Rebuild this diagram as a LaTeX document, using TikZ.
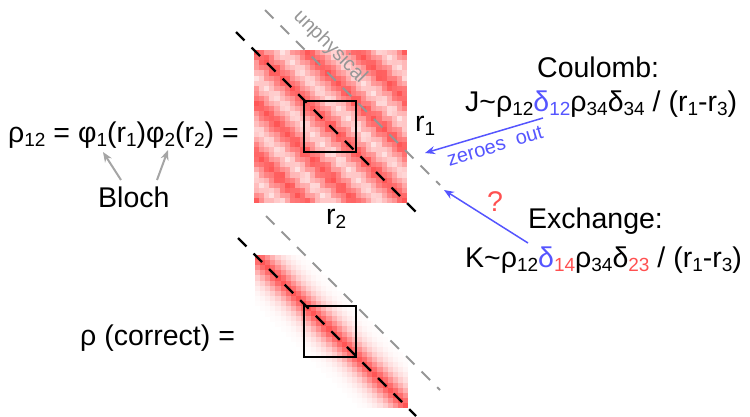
\documentclass[tikz,border=0pt]{standalone}
\usepackage{fontspec}
\setmainfont{Liberation Sans}
\usetikzlibrary{arrows.meta}
\definecolor{heat}{RGB}{255,85,85}
\definecolor{myblue}{RGB}{85,85,255}
\definecolor{myred}{RGB}{255,80,80}
\definecolor{linegray}{RGB}{150,150,150}
\definecolor{arrowgray}{RGB}{165,165,165}
\newcommand{\sbs}[1]{\raisebox{-0.28ex}{\fontsize{19}{19}\selectfont #1}}
\tikzset{
  txt/.style={inner sep=0pt, font=\fontsize{28.5}{32}\selectfont},
  smalltxt/.style={inner sep=0pt, font=\fontsize{20}{22}\selectfont},
  diagblack/.style={line width=2.2pt, dash pattern=on 12pt off 10pt},
  diaggray/.style={line width=2pt, linegray, dash pattern=on 12pt off 10pt},
  boxline/.style={line width=1.8pt},
  bluearrow/.style={myblue, line width=1.5pt, -{Stealth[length=10pt,width=8pt]}},
  grayarrow/.style={arrowgray, line width=2pt, -{Stealth[length=10pt,width=8pt]}}
}
\begin{document}
\begin{tikzpicture}[x=1pt,y=-1pt]
\useasboundingbox (0,0) rectangle (750,416);
% top heatmap
\foreach \i in {0,...,29}{
  \foreach \j in {0,...,29}{
    \pgfmathtruncatemacro{\v}{min(100,max(0,round(100*(0.6+0.33*cos(36*(\i-\j))+0.07*cos(100*(\i+\j))+0.05*cos(110*\i)*cos(110*\j)))))}
    \fill[heat!\v!white] ({254+\i*5.1},{50+\j*5.1}) rectangle +(5.4,5.4);
  }
}
% bottom heatmap
\foreach \i in {0,...,29}{
  \foreach \j in {0,...,29}{
    \pgfmathtruncatemacro{\dd}{abs(\i-\j)}
    \ifnum\dd<12
      \pgfmathtruncatemacro{\v}{round(100*exp(-(\dd/3.5)^1.5))}
      \ifnum\v>1
        \fill[heat!\v!white] ({255+\i*5.1},{255+\j*5.1}) rectangle +(5.4,5.4);
      \fi
    \fi
  }
}
% diagonals
\coordinate (ba1) at (236,32);
\coordinate (bb1) at (416,212);
\coordinate (ba2) at (238,238);
\coordinate (bb2) at (416,416);
\coordinate (ga1) at (265,10);
\coordinate (gb1) at (440,185);
\coordinate (ga2) at (266,216);
\coordinate (gb2) at (440,390);
\draw[diagblack] (ba1) -- (bb1);
\draw[diagblack] (ba2) -- (bb2);
\draw[diaggray] (ga1) -- (gb1);
\draw[diaggray] (ga2) -- (gb2);
% inner squares
\draw[boxline] (304,101) rectangle (356,152);
\draw[boxline] (304,306) rectangle (356,357);
% texts
\node[txt, anchor=base west] (rho12) at (8,142) {ρ\sbs{12} = φ\sbs{1}(r\sbs{1})φ\sbs{2}(r\sbs{2}) =};
\node[txt, anchor=base west] (bloch) at (98,207) {Bloch};
\node[txt, anchor=base west] (correct) at (80,345) {ρ (correct) =};
\node[txt, anchor=base west] (r1) at (415,131) {r\sbs{1}};
\node[txt, anchor=base west] (r2) at (326,224) {r\sbs{2}};
\node[smalltxt, linegray, rotate=-45] (unph) at (330,47) {unphysical};
\node[txt, anchor=base west] (coulomb) at (537,77) {Coulomb:};
\node[txt, anchor=base west] (J) at (465,111) {J\textasciitilde ρ\sbs{12}\textcolor{myblue}{δ\sbs{12}}ρ\sbs{34}δ\sbs{34} / (r\sbs{1}-r\sbs{3})};
\node[txt, anchor=base west] (exchange) at (528,228) {Exchange:};
\node[txt, anchor=base west] (K) at (465,267) {K\textasciitilde ρ\sbs{12}\textcolor{myblue}{δ}\textcolor{myred}{\sbs{14}}ρ\sbs{34}δ\textcolor{myred}{\sbs{23}} / (r\sbs{1}-r\sbs{3})};
\node[smalltxt, myblue, rotate=16.5] (zeroes) at (495,146) {zeroes\ \ out};
\node[txt, myred] (q) at (495,202) {?};
% arrows
\coordinate (cs) at (543,118);
\coordinate (ct) at (425,153);
\coordinate (es) at (528,243);
\coordinate (et) at (444,190);
\draw[bluearrow] (cs) -- (ct);
\draw[bluearrow] (es) -- (et);
\coordinate (bs1) at (121,180);
\coordinate (bt1) at (103,152);
\coordinate (bs2) at (157,180);
\coordinate (bt2) at (168,150);
\draw[grayarrow] (bs1) -- (bt1);
\draw[grayarrow] (bs2) -- (bt2);
\end{tikzpicture}
\end{document}
